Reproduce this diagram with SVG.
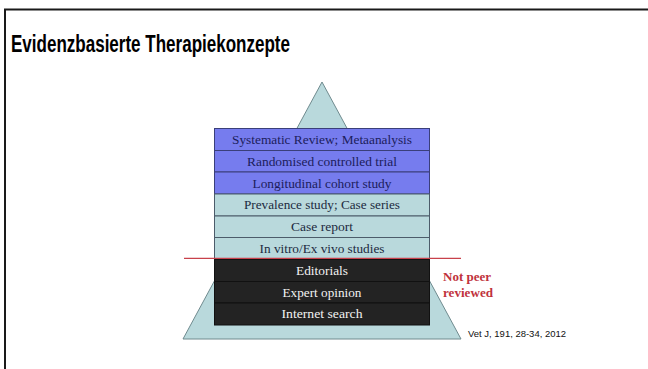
<svg xmlns="http://www.w3.org/2000/svg" width="648" height="369" viewBox="0 0 648 369">
<style>
.frame{stroke:#1a1a1a;stroke-width:2;fill:none}
.title{font-family:"Liberation Sans",Arial,sans-serif;font-weight:bold;font-size:23px;fill:#000}
.blue{fill:#767cee;stroke:#3a3f7a;stroke-width:1}
.light{fill:#b9d9dc;stroke:#4c5c6a;stroke-width:1}
.dark{fill:#232323;stroke:#111;stroke-width:1}
.lbl{font-family:"Liberation Serif","Times New Roman",serif;font-size:13.5px;text-anchor:middle}
.lb{fill:#1c1c5c}
.ll{fill:#1c2a40}
.ld{fill:#f2f2f2}
.red{font-family:"Liberation Serif","Times New Roman",serif;font-weight:bold;font-size:13.5px;fill:#c0323c}
.ref{font-family:"Liberation Sans",Arial,sans-serif;font-size:9.5px;fill:#111}
</style>
<rect width="648" height="369" fill="#fff"/>
<path class="frame" d="M648 9.5H5V369"/>
<text class="title" x="11" y="51.5" textLength="279" lengthAdjust="spacingAndGlyphs">Evidenzbasierte Therapiekonzepte</text>
<g id="pyramid">
<polygon points="322,82 461,339 183,339" fill="#b9d9dc" stroke="#6f8a8e" stroke-width="1"/>
</g>
<g id="n1"><rect class="blue" x="214.5" y="128.5" width="215" height="22"/><text class="lbl lb" x="322" y="143.5" textLength="180" lengthAdjust="spacingAndGlyphs">Systematic Review; Metaanalysis</text></g>
<g id="n2"><rect class="blue" x="214.5" y="150.5" width="215" height="21.5"/><text class="lbl lb" x="322" y="165.5" textLength="150" lengthAdjust="spacingAndGlyphs">Randomised controlled trial</text></g>
<g id="n3"><rect class="blue" x="214.5" y="172" width="215" height="22"/><text class="lbl lb" x="322" y="187.5" textLength="139" lengthAdjust="spacingAndGlyphs">Longitudinal cohort study</text></g>
<g id="n4"><rect class="light" x="214.5" y="194" width="215" height="22"/><text class="lbl ll" x="322" y="209" textLength="156" lengthAdjust="spacingAndGlyphs">Prevalence study; Case series</text></g>
<g id="n5"><rect class="light" x="214.5" y="216" width="215" height="21.5"/><text class="lbl ll" x="322" y="231" textLength="62" lengthAdjust="spacingAndGlyphs">Case report</text></g>
<g id="n6"><rect class="light" x="214.5" y="237.5" width="215" height="22"/><text class="lbl ll" x="322" y="253" textLength="125" lengthAdjust="spacingAndGlyphs">In vitro/Ex vivo studies</text></g>
<g id="n7"><rect class="dark" x="214.5" y="259.5" width="215" height="22"/><text class="lbl ld" x="322" y="275" textLength="52" lengthAdjust="spacingAndGlyphs">Editorials</text></g>
<g id="n8"><rect class="dark" x="214.5" y="281.5" width="215" height="21.5"/><text class="lbl ld" x="322" y="297" textLength="79" lengthAdjust="spacingAndGlyphs">Expert opinion</text></g>
<g id="n9"><rect class="dark" x="214.5" y="303" width="215" height="22"/><text class="lbl ld" x="322" y="318" textLength="81" lengthAdjust="spacingAndGlyphs">Internet search</text></g>
<g id="connectors">
<line x1="184" y1="258.3" x2="461" y2="258.3" stroke="#c8414b" stroke-width="1.3"/>
</g>
<g id="note">
<text class="red" x="443" y="280.5" textLength="48" lengthAdjust="spacingAndGlyphs">Not peer</text>
<text class="red" x="443" y="296.5" textLength="50" lengthAdjust="spacingAndGlyphs">reviewed</text>
</g>
<g id="reference"><text class="ref" x="468" y="336.5" textLength="98" lengthAdjust="spacingAndGlyphs">Vet J, 191, 28-34, 2012</text></g>
</svg>
